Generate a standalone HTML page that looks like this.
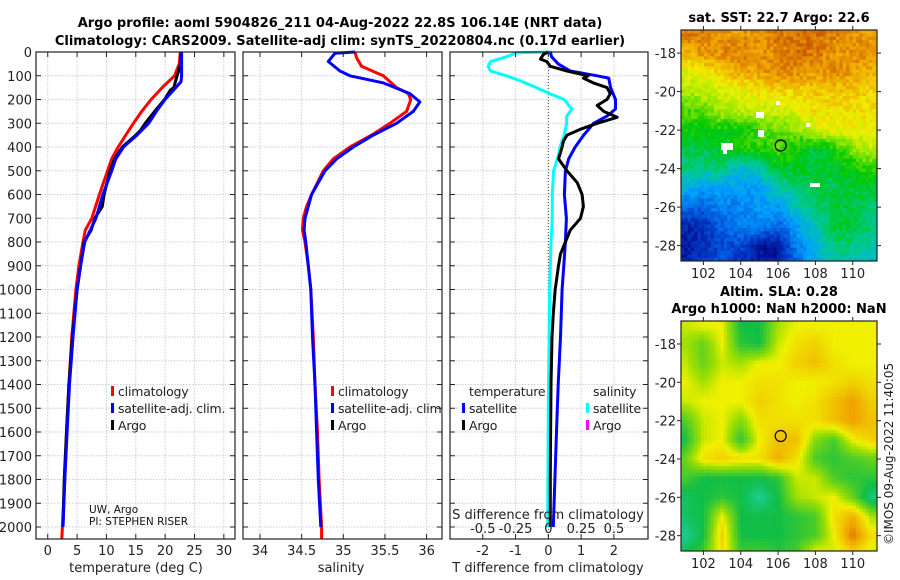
<!DOCTYPE html>
<html><head><meta charset="utf-8">
<style>
html,body{margin:0;padding:0;background:#fff;}
svg{display:block;font-family:"DejaVu Sans","Liberation Sans",sans-serif;}
</style></head>
<body>
<svg id="fig" width="900" height="580" viewBox="0 0 900 580" xmlns="http://www.w3.org/2000/svg">
<g id="titles" font-weight="bold" font-size="13" text-anchor="middle">
<text x="340" y="27">Argo profile: aoml 5904826_211 04-Aug-2022 22.8S 106.14E (NRT data)</text>
<text x="340" y="45">Climatology: CARS2009. Satellite-adj clim: synTS_20220804.nc (0.17d earlier)</text>
<text x="779" y="22">sat. SST: 22.7 Argo: 22.6</text>
<text x="779" y="296">Altim. SLA: 0.28</text>
<text x="779" y="313">Argo h1000: NaN h2000: NaN</text>
</g>
<text font-size="12" fill="#222" transform="translate(893,545) rotate(-90)">©IMOS 09-Aug-2022 11:40:05</text>
<g id="layer"></g>
</svg>
<script>
// ---- data ----
const depthT = [0,50,100,150,200,250,300,350,400,450,500,600,700,750,800,900,1000,1200,1400,1600,1800,2000,2050];
const tempClim = [22.6,22.4,21.6,19.5,17.6,16.0,14.6,13.3,12.0,10.9,10.2,8.8,7.5,6.4,6.0,5.3,4.8,4.1,3.6,3.2,2.9,2.5,2.4];
const depthTs = [0,100,125,200,250,300,350,400,450,500,600,700,800,900,1000,1200,1400,1600,1800,2000];
const tempSat = [22.8,22.8,22.7,20.0,18.5,17.2,15.2,12.9,11.6,10.9,9.4,8.2,6.3,5.6,5.0,4.3,3.7,3.3,2.9,2.6];
const depthTa = [0,50,80,120,150,160,200,250,300,330,350,400,450,500,600,650,700,750,800,900,1000,1200,1400,1600,1800,1990];
const tempArgo = [22.7,22.6,22.3,21.8,21.5,20.9,19.9,18.2,16.6,15.8,15.0,12.7,11.4,10.6,9.6,9.3,8.0,7.4,6.2,5.6,5.0,4.2,3.6,3.2,2.8,2.6];

const depthS = [0,25,60,100,150,175,200,250,300,350,400,450,500,600,650,700,750,800,900,1000,1200,1400,1600,1800,2000,2050];
const salClim = [35.14,35.16,35.22,35.48,35.64,35.78,35.81,35.76,35.56,35.34,35.08,34.88,34.76,34.62,34.56,34.52,34.51,34.54,34.58,34.61,34.64,34.66,34.69,34.71,34.74,34.74];
const depthSs = [0,5,40,80,100,130,175,210,250,300,350,400,450,500,600,700,750,800,900,1000,1200,1400,1600,1800,2000];
const salSat = [35.14,34.90,34.82,34.96,35.08,35.48,35.80,35.92,35.84,35.64,35.36,35.12,34.92,34.78,34.62,34.54,34.53,34.55,34.58,34.61,34.63,34.66,34.68,34.70,34.73];

const depthD = [0,20,50,80,100,110,150,200,240,270,300,350,400,450,500,600,700,800,900,1000,1200,1400,1600,1800,2000];
const tDiffSat = [0.06,0.1,0.3,0.67,1.49,1.84,1.9,2.05,2.05,1.79,1.38,1.08,0.82,0.62,0.52,0.49,0.55,0.52,0.47,0.42,0.37,0.3,0.25,0.2,0.15];
const depthDa = [0,10,30,40,60,80,100,110,130,150,175,200,225,250,275,300,325,350,375,400,450,500,550,600,650,700,750,800,850,900,1000,1100,1200,1400,1600,1800,2000];
const tDiffArgo = [0,-0.15,-0.24,-0.05,0.06,0.57,1.22,1.07,1.37,1.79,1.89,1.79,1.49,1.69,2.1,1.49,0.98,0.57,0.46,0.42,0.31,0.57,0.88,1.03,1.07,0.98,0.67,0.52,0.37,0.31,0.21,0.15,0.11,0.08,0.07,0.06,0.06];
const depthSd = [0,3,20,40,60,80,100,120,150,175,200,240,270,300,350,400,450,500,600,700,800,1000,1500,2000];
const sDiffSat = [0.03,-0.24,-0.32,-0.44,-0.46,-0.44,-0.32,-0.22,-0.09,0.01,0.12,0.18,0.14,0.14,0.12,0.09,0.07,0.04,0.03,0.03,0.02,0.01,0.0,-0.005];

const depthTicks = [0,100,200,300,400,500,600,700,800,900,1000,1100,1200,1300,1400,1500,1600,1700,1800,1900,2000];
const tTicks = [0,5,10,15,20,25,30];
const sTicks = [34,34.5,35,35.5,36];
const sTickLabels = ['34','34.5','35','35.5','36'];
const dTicks = [-2,-1,0,1,2];
const dsTicks = [-0.5,-0.25,0,0.25,0.5];
const dsTickLabels = ['-0.5','-0.25','0','0.25','0.5'];
const lonTicks = [102,104,106,108,110];
const latTicks = [-18,-20,-22,-24,-26,-28];
const argoLon = [106.14];
const argoLat = [-22.8];

const sstField = [
[.92,.92,.88,.88,.9,.92,.92,.94,.92,.88,.88],
[.85,.88,.9,.92,.88,.9,.94,.92,.88,.9,.88],
[.74,.77,.82,.85,.87,.9,.9,.87,.9,.87,.85],
[.68,.7,.72,.75,.78,.8,.8,.82,.82,.82,.8],
[.6,.62,.68,.7,.72,.72,.75,.78,.78,.78,.78],
[.55,.55,.55,.55,.6,.62,.65,.72,.75,.75,.75],
[.48,.5,.52,.55,.58,.6,.55,.5,.55,.65,.7],
[.45,.45,.45,.35,.4,.52,.52,.5,.52,.55,.58],
[.35,.3,.3,.3,.3,.4,.45,.5,.5,.5,.5],
[.2,.2,.25,.25,.3,.3,.4,.45,.5,.5,.45],
[.08,.1,.2,.25,.25,.2,.3,.4,.5,.5,.45],
[.05,.1,.15,.15,.05,.05,.25,.35,.45,.45,.4],
[.08,.12,.2,.1,.05,.05,.2,.3,.4,.4,.35]];
const slaField = [
[.5,.55,.55,.2,.2,.45,.55,.55,.55,.55,.55],
[.45,.35,.55,.25,.2,.5,.6,.65,.55,.55,.55],
[.5,.35,.5,.45,.55,.55,.65,.7,.6,.55,.55],
[.55,.45,.55,.55,.6,.6,.55,.55,.6,.65,.6],
[.5,.55,.55,.55,.65,.6,.55,.6,.7,.8,.65],
[.3,.5,.55,.4,.6,.6,.6,.6,.7,.8,.7],
[.2,.5,.55,.25,.55,.7,.7,.4,.3,.55,.65],
[.35,.6,.65,.6,.6,.75,.6,.3,.25,.3,.35],
[.3,.2,.2,.2,.2,.25,.5,.5,.3,.25,.25],
[.15,.2,.25,.2,.05,.2,.45,.5,.55,.35,.1],
[.15,.2,.55,.2,.2,.2,.25,.3,.6,.75,.45],
[.05,.2,.65,.2,.2,.2,.25,.3,.55,.9,.6],
[.2,.3,.6,.3,.3,.25,.3,.6,.5,.6,.5]];

// ---- helpers ----
const NS='http://www.w3.org/2000/svg';
const layer=document.getElementById('layer');
function mk(tag,attrs,parent){const e=document.createElementNS(NS,tag);for(const k in attrs)e.setAttribute(k,attrs[k]);(parent||layer).appendChild(e);return e;}
const Y0=52, PX_PER_M=0.2375, YB=539;
const yD=d=>Y0+d*PX_PER_M;

function panel(name,x0,x1,xmin,xmax){
  const sx=v=>x0+(v-xmin)/(xmax-xmin)*(x1-x0);
  const g=mk('g',{});
  
  
  return {x0,x1,sx,g};
}
function grid(p,xt){
  xt.forEach(v=>{const x=p.sx(v);const l=mk('line',{x1:x,x2:x,y1:Y0,y2:YB,stroke:'#c8cce8','stroke-width':1,'stroke-dasharray':'1.5,1.5'},p.g);
    });
  depthTicks.forEach(d=>{const y=yD(d);const l=mk('line',{x1:p.x0,x2:p.x1,y1:y,y2:y,stroke:'#c8cce8','stroke-width':1,'stroke-dasharray':'1.5,1.5'},p.g);
    });
}
function frame(p,xt,xl,labY){
  depthTicks.forEach(d=>{const y=yD(d);
    mk('line',{x1:p.x0,x2:p.x0+5,y1:y,y2:y,stroke:'#222'},p.g);
    mk('line',{x1:p.x1-5,x2:p.x1,y1:y,y2:y,stroke:'#222'},p.g);});
  xt.forEach((v,i)=>{const x=p.sx(v);
    mk('line',{x1:x,x2:x,y1:YB,y2:YB-5,stroke:'#222'},p.g);
    mk('line',{x1:x,x2:x,y1:Y0,y2:Y0+5,stroke:'#222'},p.g);
    if(xl){const t=mk('text',{x:x,y:labY,'font-size':13,'text-anchor':'middle',fill:'#222'},p.g);t.textContent=xl[i];
      }
  });
  const r=mk('rect',{x:p.x0,y:Y0,width:p.x1-p.x0,height:YB-Y0,fill:'none',stroke:'#222','stroke-width':1.2},p.g);
  
}
function line(p,xs,ds,color,name){
  const pts=xs.map((v,i)=>p.sx(v).toFixed(1)+','+yD(ds[i]).toFixed(1)).join(' ');
  const l=mk('polyline',{points:pts,fill:'none',stroke:color,'stroke-width':3,'stroke-linejoin':'round'},p.g);
  
  
}
function legendEntry(g,x,y,color,label){
  mk('rect',{x:x,y:y-10,width:3,height:10,fill:color},g);
  const t=mk('text',{x:x+7,y:y,'font-size':12.5,'letter-spacing':'-0.2',fill:'#222'},g);t.textContent=label;
  
}

// ---- panel 1: temperature ----
const p1=panel('temperature-panel',36,235,-2,31.9);
grid(p1,tTicks);
line(p1,tempClim,depthT,'#ff0000','climatology-temperature-line');
line(p1,tempArgo,depthTa,'#000000','argo-temperature-line');
line(p1,tempSat,depthTs,'#0000ff','satellite-temperature-line');
frame(p1,tTicks,tTicks.map(String),555);
depthTicks.forEach(d=>{const t=mk('text',{x:32,y:yD(d)+5,'font-size':13,'text-anchor':'end',fill:'#222'},p1.g);t.textContent=d;
  });
{const t=mk('text',{x:136,y:572,'font-size':13,'text-anchor':'middle',fill:'#222'},p1.g);t.textContent='temperature (deg C)';
 }
legendEntry(p1.g,111,396,'#ff0000','climatology');
legendEntry(p1.g,111,413,'#0000ff','satellite-adj. clim.');
legendEntry(p1.g,111,430,'#000000','Argo');
{const t=mk('text',{x:89,y:513,'font-size':10.5,fill:'#111'},p1.g);t.textContent='UW, Argo';
 
 const t2=mk('text',{x:89,y:525,'font-size':10.5,fill:'#111'},p1.g);t2.textContent='PI: STEPHEN RISER';
 }

// ---- panel 2: salinity ----
const p2=panel('salinity-panel',243,442,33.796,36.185);
grid(p2,sTicks);
line(p2,salClim,depthS,'#ff0000','climatology-salinity-line');
line(p2,salSat,depthSs,'#0000ff','satellite-salinity-line');
frame(p2,sTicks,sTickLabels,555);
{const t=mk('text',{x:341,y:572,'font-size':13,'text-anchor':'middle',fill:'#222'},p2.g);t.textContent='salinity';
 }
legendEntry(p2.g,331,396,'#ff0000','climatology');
legendEntry(p2.g,331,413,'#0000ff','satellite-adj. clim.');
legendEntry(p2.g,331,430,'#000000','Argo');
mk('rect',{x:442.6,y:400,width:7,height:18,fill:'#fff'},p2.g);

// ---- panel 3: differences ----
const p3=panel('difference-panel',450,648,-3.0,3.04);
grid(p3,dTicks);
{const x=p3.sx(0);const l=mk('line',{x1:x,x2:x,y1:Y0,y2:YB,stroke:'#335522','stroke-width':1,'stroke-dasharray':'1,2'},p3.g);
 }
line(p3,sDiffSat.map(v=>v*4),depthSd,'#00ffff','satellite-salinity-diff-line');
line(p3,tDiffSat,depthD,'#0000ff','satellite-temperature-diff-line');
line(p3,tDiffArgo,depthDa,'#000000','argo-temperature-diff-line');
frame(p3,dTicks,dTicks.map(String),555);
dsTicks.forEach((v,i)=>{const t=mk('text',{x:p3.sx(v*4),y:533,'font-size':13,'text-anchor':'middle',fill:'#222'},p3.g);t.textContent=dsTickLabels[i];
  });
{const t=mk('text',{x:548,y:519,'font-size':13,'text-anchor':'middle',fill:'#222'},p3.g);t.textContent='S difference from climatology';
 
 const t2=mk('text',{x:548,y:572,'font-size':13,'text-anchor':'middle',fill:'#222'},p3.g);t2.textContent='T difference from climatology';
 
 const t3=mk('text',{x:469,y:396,'font-size':12.5,'letter-spacing':'-0.2',fill:'#222'},p3.g);t3.textContent='temperature';
 
 const t4=mk('text',{x:593,y:396,'font-size':12.5,'letter-spacing':'-0.2',fill:'#222'},p3.g);t4.textContent='salinity';
 }
legendEntry(p3.g,462,413,'#0000ff','satellite');
legendEntry(p3.g,462,430,'#000000','Argo');
legendEntry(p3.g,586,413,'#00ffff','satellite');
legendEntry(p3.g,586,430,'#ff00ff','Argo');

// ---- maps ----
function lerpColor(stops,v){
  v=Math.max(0,Math.min(1,v));
  for(let i=1;i<stops.length;i++){if(v<=stops[i][0]){const a=stops[i-1],b=stops[i];const t=(v-a[0])/(b[0]-a[0]);
    const c=[0,1,2].map(k=>Math.round(a[1][k]+(b[1][k]-a[1][k])*t));return 'rgb('+c.join(',')+')';}}
  const l=stops[stops.length-1][1];return 'rgb('+l.join(',')+')';
}
const sstStops=[[0,[0,0,128]],[0.15,[0,70,210]],[0.3,[0,160,255]],[0.42,[0,200,160]],[0.55,[0,200,0]],[0.66,[150,232,0]],[0.76,[240,240,0]],[0.86,[240,170,0]],[1,[190,60,0]]];
const slaStops=[[0,[32,208,176]],[0.2,[16,190,70]],[0.45,[160,224,0]],[0.55,[240,240,0]],[0.8,[240,160,0]],[1,[190,80,0]]];
function field(F,lon,lat){
  const c=Math.max(0,Math.min(10,lon-101)), r=Math.max(0,Math.min(12,-17-lat));
  const c0=Math.min(9,Math.floor(c)), r0=Math.min(11,Math.floor(r)), fc=c-c0, fr=r-r0;
  return F[r0][c0]*(1-fc)*(1-fr)+F[r0][c0+1]*fc*(1-fr)+F[r0+1][c0]*(1-fc)*fr+F[r0+1][c0+1]*fc*fr;
}
function hash(i,j){let h=(i*374761393+j*668265263)|0;h=(h^(h>>>13))*1274126177|0;return ((h^(h>>>16))>>>0)/4294967296;}
function drawMap(name,F,stops,x0,x1,y0,y1,lonMin,lonMax,latTop,latBot,cell,noise,holes){
  const g=mk('g',{});
  
  
  const sx=lon=>x0+(lon-lonMin)/(lonMax-lonMin)*(x1-x0);
  const sy=lat=>y0+(latTop-lat)/(latTop-latBot)*(y1-y0);
  for(let y=y0,j=0;y<y1;y+=cell,j++){for(let x=x0,i=0;x<x1;x+=cell,i++){
    const lon=lonMin+(x+cell/2-x0)/(x1-x0)*(lonMax-lonMin);
    const lat=latTop-(y+cell/2-y0)/(y1-y0)*(latTop-latBot);
    const v=field(F,lon,lat)+(hash(i,j)-0.5)*noise;
    mk('rect',{x:x,y:y,width:Math.min(cell,x1-x)+0.3,height:Math.min(cell,y1-y)+0.3,fill:lerpColor(stops,v)},g);
  }}
  holes.forEach(h=>mk('rect',{x:h[0],y:h[1],width:h[2],height:h[3],fill:'#fff'},g));
  argoLon.forEach((lo,k)=>{const c=mk('circle',{cx:sx(lo),cy:sy(argoLat[k]),r:5.5,fill:'none',stroke:'#000','stroke-width':1.2},g);
    });
  mk('rect',{x:x0,y:y0,width:x1-x0,height:y1-y0,fill:'none',stroke:'#222','stroke-width':1.2},g);
  lonTicks.forEach(lo=>{const x=sx(lo);mk('line',{x1:x,x2:x,y1:y1,y2:y1+4,stroke:'#222'},g);mk('line',{x1:x,x2:x,y1:y0,y2:y0-4,stroke:'#222'},g);
    const t=mk('text',{x:x,y:y1+17,'font-size':13,'text-anchor':'middle',fill:'#222'},g);t.textContent=lo;
    });
  latTicks.forEach(la=>{const y=sy(la);mk('line',{x1:x0-4,x2:x0,y1:y,y2:y,stroke:'#222'},g);mk('line',{x1:x1,x2:x1+4,y1:y,y2:y,stroke:'#222'},g);
    const t=mk('text',{x:x0-5,y:y+5,'font-size':13,'text-anchor':'end',fill:'#222'},g);t.textContent=la;
    });
}
drawMap('sst-map',sstField,sstStops,681,877,30,261,100.8,111.3,-16.8,-28.8,3.3,0.08,
  [[721,143,12,7],[723,150,4,4],[756,112,8,6],[776,101,4,4],[806,123,4,4],[758,130,6,7],[810,183,10,4]]);
drawMap('sla-map',slaField,slaStops,681,877,321,551,100.8,111.3,-16.8,-28.8,3.3,0.0,[]);
</script>
</body></html>
